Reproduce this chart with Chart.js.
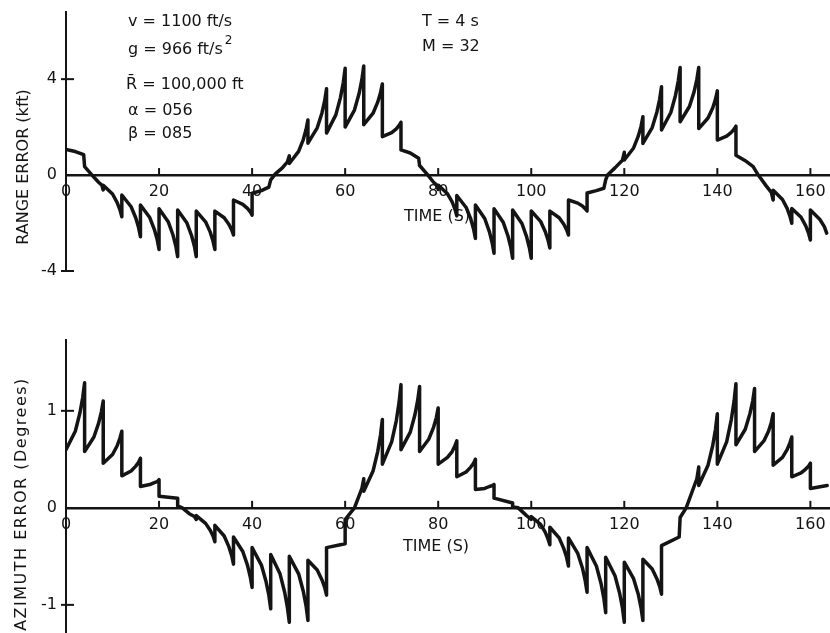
<!DOCTYPE html>
<html><head><meta charset="utf-8">
<script src="https://cdn.jsdelivr.net/npm/chart.js@4.4.0/dist/chart.umd.min.js"></script>
<style>
html,body{margin:0;padding:0;background:#fff;}
#wrap{position:relative;width:830px;height:633px;overflow:hidden;background:#fff;}
canvas{position:absolute;left:0;}
#c1{top:0;}
#c2{top:320px;}
</style></head><body>
<div id="wrap">
<canvas id="c1" width="830" height="300"></canvas>
<canvas id="c2" width="830" height="313"></canvas>
</div>
<script>
// ---- tick labels ----
const timeTicks = [0, 20, 40, 60, 80, 100, 120, 140, 160];
const rangeTicks = [-4, 0, 4];
const azTicks = [-1, 0, 1];

// ---- Range error (kft) vs time (s) ----
const timeR = [
  0, 2, 3.8, 4, 5.6, 7, 7.7, 8, 8, 10, 11, 11.6, 12, 12, 14, 15, 15.6, 16, 16, 18, 19, 19.6, 20,
  20, 22, 23, 23.6, 24, 24, 26, 27, 27.6, 28, 28, 30, 31, 31.6, 32, 32, 34, 35, 35.6, 36,
  36, 38, 39, 39.6, 40, 40, 42, 43.6, 44, 45, 46.5, 47.6, 48, 48, 50, 51, 51.6, 52,
  52, 54, 55, 55.6, 56, 56, 58, 59, 59.6, 60, 60, 62, 63, 63.6, 64, 64, 66, 67, 67.6, 68,
  68, 70, 71, 71.6, 72, 72, 74, 75.8, 76, 77.8, 79, 79.7, 80, 80, 82, 83, 83.6, 84,
  84, 86, 87, 87.6, 88, 88, 90, 91, 91.6, 92, 92, 94, 95, 95.6, 96, 96, 98, 99, 99.6, 100,
  100, 102, 103, 103.6, 104, 104, 106, 107, 107.6, 108, 108, 110, 111, 111.6, 112,
  112, 114, 115.6, 116, 116.4, 118, 119.6, 120, 120, 122, 123, 123.6, 124,
  124, 126, 127, 127.6, 128, 128, 130, 131, 131.6, 132, 132, 134, 135, 135.6, 136,
  136, 138, 139, 139.6, 140, 140, 142, 143, 143.6, 144, 144, 146, 147.7, 148.8, 150.5, 151.6, 152,
  152, 154, 155, 155.6, 156, 156, 158, 159, 159.6, 160, 160, 162, 163, 163.5
];
const rangeErr = [
  1.07, 0.98, 0.85, 0.35, 0.0, -0.3, -0.42, -0.62, -0.42, -0.79, -1.15, -1.45, -1.74, -0.83, -1.32, -1.79, -2.19, -2.57, -1.25, -1.77, -2.27, -2.69, -3.1,
  -1.4, -1.96, -2.5, -2.96, -3.4, -1.46, -2.0, -2.53, -2.97, -3.4, -1.5, -1.95, -2.38, -2.75, -3.1, -1.5, -1.78, -2.05, -2.28, -2.5,
  -1.04, -1.22, -1.39, -1.53, -1.67, -0.76, -0.65, -0.5, -0.2, 0.05, 0.3, 0.55, 0.8, 0.48, 0.99, 1.48, 1.9, 2.3,
  1.33, 1.97, 2.58, 3.1, 3.6, 1.75, 2.51, 3.24, 3.86, 4.45, 2.0, 2.71, 3.4, 3.99, 4.55, 2.1, 2.58, 3.04, 3.43, 3.8,
  1.6, 1.77, 1.93, 2.07, 2.2, 1.05, 0.92, 0.7, 0.4, 0.0, -0.3, -0.42, -0.6, -0.42, -0.78, -1.12, -1.42, -1.7,
  -0.85, -1.35, -1.83, -2.25, -2.64, -1.25, -1.81, -2.36, -2.82, -3.26, -1.4, -1.98, -2.54, -3.01, -3.47, -1.46, -2.02, -2.57, -3.03, -3.47,
  -1.5, -1.93, -2.35, -2.7, -3.04, -1.5, -1.78, -2.05, -2.28, -2.5, -1.04, -1.17, -1.29, -1.4, -1.5,
  -0.75, -0.65, -0.55, -0.2, 0.0, 0.3, 0.62, 0.95, 0.63, 1.13, 1.62, 2.03, 2.43,
  1.32, 1.98, 2.62, 3.16, 3.68, 1.88, 2.61, 3.32, 3.92, 4.49, 2.22, 2.86, 3.47, 3.99, 4.49,
  1.94, 2.38, 2.8, 3.16, 3.51, 1.46, 1.62, 1.78, 1.91, 2.04, 0.83, 0.6, 0.35, 0.0, -0.45, -0.72, -1.04,
  -0.63, -1.02, -1.39, -1.71, -2.01, -1.39, -1.76, -2.12, -2.42, -2.71, -1.46, -1.84, -2.15, -2.42
];

// ---- Azimuth error (degrees) vs time (s) ----
const timeA = [
  0, 2, 3, 3.6, 4, 4, 6, 7, 7.6, 8, 8, 10, 11, 11.6, 12, 12, 14, 15, 15.6, 16, 16, 18, 19, 19.6, 20,
  20, 22, 24, 24, 25, 26.5, 27.6, 28, 28, 30, 31, 31.6, 32, 32, 34, 35, 35.6, 36, 36, 38, 39, 39.6, 40,
  40, 42, 43, 43.6, 44, 44, 46, 47, 47.6, 48, 48, 50, 51, 51.6, 52, 52, 54, 55, 55.6, 56, 56, 60, 60, 62, 63.6, 64,
  64, 66, 67, 67.6, 68, 68, 70, 71, 71.6, 72, 72, 74, 75, 75.6, 76, 76, 78, 79, 79.6, 80,
  80, 82, 83, 83.6, 84, 84, 86, 87, 87.6, 88, 88, 90, 91, 91.6, 92, 92, 96, 96, 97.2, 99, 100,
  100, 102, 103, 103.6, 104, 104, 106, 107, 107.6, 108, 108, 110, 111, 111.6, 112, 112, 114, 115, 115.6, 116,
  116, 118, 119, 119.6, 120, 120, 122, 123, 123.6, 124, 124, 126, 127, 127.6, 128, 128, 131.8, 132, 133.3, 135.6, 136,
  136, 138, 139, 139.6, 140, 140, 142, 143, 143.6, 144, 144, 146, 147, 147.6, 148, 148, 150, 151, 151.6, 152,
  152, 154, 155, 155.6, 156, 156, 158, 159, 159.6, 160, 160, 163.6
];
const azErr = [
  0.6, 0.79, 0.98, 1.14, 1.29, 0.58, 0.73, 0.87, 0.99, 1.10, 0.46, 0.55, 0.64, 0.72, 0.79, 0.33, 0.38, 0.43, 0.47, 0.51, 0.22, 0.24, 0.26, 0.27, 0.29,
  0.12, 0.11, 0.1, 0.02, 0.0, -0.06, -0.09, -0.12, -0.08, -0.16, -0.23, -0.29, -0.35, -0.18, -0.29, -0.4, -0.49, -0.58, -0.3, -0.45, -0.59, -0.71, -0.82,
  -0.41, -0.59, -0.76, -0.9, -1.04, -0.48, -0.68, -0.87, -1.03, -1.18, -0.5, -0.68, -0.86, -1.01, -1.16, -0.54, -0.64, -0.74, -0.82, -0.9, -0.41, -0.37, -0.12, 0.0, 0.2, 0.3,
  0.17, 0.38, 0.58, 0.75, 0.91, 0.45, 0.68, 0.9, 1.09, 1.27, 0.6, 0.78, 0.96, 1.11, 1.25, 0.58, 0.71, 0.83, 0.93, 1.03,
  0.45, 0.52, 0.58, 0.64, 0.69, 0.32, 0.37, 0.42, 0.46, 0.5, 0.19, 0.2, 0.22, 0.23, 0.24, 0.1, 0.05, 0.01, 0.0, -0.08, -0.12,
  -0.09, -0.17, -0.25, -0.32, -0.38, -0.2, -0.31, -0.42, -0.51, -0.6, -0.31, -0.47, -0.62, -0.75, -0.87, -0.41, -0.6, -0.78, -0.93, -1.08,
  -0.51, -0.7, -0.88, -1.03, -1.18, -0.56, -0.73, -0.89, -1.03, -1.16, -0.53, -0.63, -0.73, -0.81, -0.89, -0.39, -0.3, -0.1, 0.0, 0.3, 0.42,
  0.23, 0.44, 0.64, 0.81, 0.97, 0.45, 0.68, 0.91, 1.1, 1.28, 0.65, 0.81, 0.97, 1.1, 1.23, 0.58, 0.69, 0.79, 0.88, 0.97,
  0.44, 0.52, 0.6, 0.67, 0.73, 0.32, 0.36, 0.4, 0.43, 0.46, 0.2, 0.23
];

const INK = '#141414';
const FONT = '"DejaVu Sans", "Liberation Sans", sans-serif';

function decoPlugin(deco) {
  return {
    id: 'deco',
    afterDraw(chart) {
      const ctx = chart.ctx;
      const xs = chart.scales.x, ys = chart.scales.y;
      const z = ys.getPixelForValue(0);
      const left = chart.chartArea.left;
      ctx.save();
      ctx.strokeStyle = INK;
      ctx.lineWidth = 2;
      deco.yTicks.forEach(v => {
        if (v === 0) return;
        const p = ys.getPixelForValue(v);
        ctx.beginPath(); ctx.moveTo(left - 5, p); ctx.lineTo(left + 8, p); ctx.stroke();
      });
      deco.xTicks.forEach(t => {
        if (t === 0) return;
        const p = xs.getPixelForValue(t);
        ctx.beginPath(); ctx.moveTo(p, z - 7); ctx.lineTo(p, z); ctx.stroke();
      });
      ctx.fillStyle = INK;
      ctx.textBaseline = 'middle';
      deco.texts.forEach(tx => {
        ctx.save();
        ctx.font = (tx.size || 16) + 'px ' + FONT;
        ctx.letterSpacing = (tx.spacing || 0) + 'px';
        ctx.translate(tx.x, tx.y);
        if (tx.rot) ctx.rotate(tx.rot);
        ctx.textAlign = tx.align || 'left';
        ctx.fillText(tx.text, 0, 0);
        if (tx.sup) {
          const w = ctx.measureText(tx.text).width;
          ctx.font = '12px ' + FONT;
          ctx.fillText(tx.sup, w + 2, -9);
        }
        ctx.restore();
      });
      ctx.restore();
    }
  };
}

function makeChart(id, xs, ys, yMin, yMax, yTicks, padTop, padBottom, deco) {
  const pts = xs.map((x, i) => ({x: x, y: ys[i]}));
  return new Chart(document.getElementById(id), {
    type: 'line',
    data: { datasets: [{ data: pts, borderColor: INK, borderWidth: 3.5, pointRadius: 0,
      tension: 0, borderJoinStyle: 'round', borderCapStyle: 'round', fill: false }] },
    options: {
      responsive: false, animation: false, devicePixelRatio: 1,
      layout: { padding: { left: 0, right: 1, top: padTop, bottom: padBottom } },
      plugins: { legend: { display: false }, tooltip: { enabled: false } },
      scales: {
        x: {
          type: 'linear', min: 0, max: 164, position: { y: 0 },
          grid: { display: false, drawTicks: false },
          border: { display: true, color: INK, width: 2.5 },
          ticks: { padding: 7, color: INK, maxRotation: 0, autoSkip: false,
            font: { family: FONT, size: 16 } },
          afterBuildTicks: s => { s.ticks = timeTicks.map(v => ({ value: v })); },
          afterFit: s => { s.paddingLeft = 0; s.paddingRight = 0; }
        },
        y: {
          type: 'linear', min: yMin, max: yMax, position: 'left',
          grid: { display: false, drawTicks: false },
          border: { display: true, color: INK, width: 2 },
          ticks: { padding: 9, color: INK, font: { family: FONT, size: 16 } },
          afterBuildTicks: s => { s.ticks = yTicks.map(v => ({ value: v })); },
          afterFit: s => { s.width = 66; s.paddingTop = 0; s.paddingBottom = 0; }
        }
      }
    },
    plugins: [decoPlugin(deco)]
  });
}

makeChart('c1', timeR, rangeErr, -4, 6.8, rangeTicks, 12, 29, {
  yTicks: rangeTicks, xTicks: timeTicks,
  texts: [
    { text: 'v = 1100 ft/s', x: 128, y: 22 },
    { text: 'g = 966 ft/s', x: 128, y: 50, sup: '2' },
    { text: 'R\u0304 = 100,000 ft', x: 126, y: 85 },
    { text: '\u03b1 = 056', x: 128, y: 111 },
    { text: '\u03b2 = 085', x: 128, y: 134 },
    { text: 'T = 4 s', x: 422, y: 22 },
    { text: 'M = 32', x: 422, y: 47 },
    { text: 'TIME (S)', x: 437, y: 217, align: 'center' },
    { text: 'RANGE ERROR (kft)', x: 24, y: 167, rot: -Math.PI / 2, align: 'center' }
  ]
});

makeChart('c2', timeA, azErr, -1.29, 1.73, azTicks, 20, 0, {
  yTicks: azTicks, xTicks: timeTicks,
  texts: [
    { text: 'TIME (S)', x: 436, y: 227, align: 'center' },
    { text: 'AZIMUTH ERROR (Degrees)', x: 22, y: 184, rot: -Math.PI / 2, align: 'center', spacing: 1.5 }
  ]
});
</script>
</body></html>
